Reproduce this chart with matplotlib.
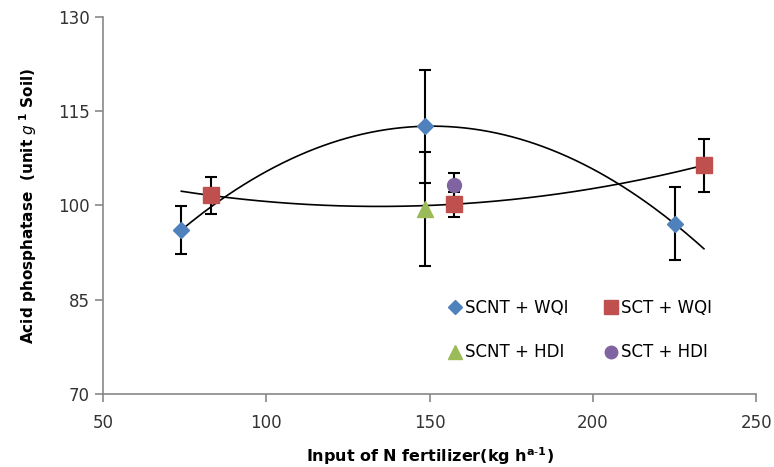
import numpy as np
import matplotlib
matplotlib.use('Agg')
import matplotlib.pyplot as plt

# data
scnt_wqi_x = [74, 148.5, 225]
scnt_wqi_y = [96.1, 112.6, 97.1]
scnt_wqi_err = [3.8, 9.0, 5.8]

sct_wqi_x = [83, 157.5, 234]
sct_wqi_y = [101.6, 100.2, 106.4]
sct_wqi_err = [3.0, 2.0, 4.2]

scnt_hdi_x = [148.5]
scnt_hdi_y = [99.4]
scnt_hdi_err = [9.1]

sct_hdi_x = [157.5]
sct_hdi_y = [103.3]
sct_hdi_err = [1.9]

trend_range = (74, 234)

fig = plt.figure(figsize=(7.74, 4.67), dpi=100)
ax = fig.add_axes([0.133, 0.156, 0.844, 0.808])

# trendlines (2nd order polynomial)
xs = np.linspace(trend_range[0], trend_range[1], 200)
for xx, yy in [(scnt_wqi_x, scnt_wqi_y), (sct_wqi_x, sct_wqi_y)]:
    c = np.polyfit(xx, yy, 2)
    ax.plot(xs, np.polyval(c, xs), color='black', lw=1.2, zorder=2)

ekw = dict(ecolor='black', elinewidth=1.5, capsize=4, capthick=1.5, ls='none', zorder=3)
ax.errorbar(scnt_wqi_x, scnt_wqi_y, yerr=scnt_wqi_err, fmt='D', color='#4F81BD',
            ms=8, mec='#4F81BD', label='SCNT + WQI', **ekw)
ax.errorbar(sct_wqi_x, sct_wqi_y, yerr=sct_wqi_err, fmt='s', color='#C0504D',
            ms=11, mec='#C0504D', label='SCT + WQI', **ekw)
ax.errorbar(scnt_hdi_x, scnt_hdi_y, yerr=scnt_hdi_err, fmt='^', color='#9BBB59',
            ms=11, mec='#9BBB59', label='SCNT + HDI', **ekw)
ax.errorbar(sct_hdi_x, sct_hdi_y, yerr=sct_hdi_err, fmt='o', color='#8064A2',
            ms=10, mec='#8064A2', label='SCT + HDI', **ekw)

ax.set_xlim(50, 250)
ax.set_ylim(70, 130)
ax.set_xticks([50, 100, 150, 200, 250])
ax.set_yticks([70, 85, 100, 115, 130])

for s in ['top', 'right']:
    ax.spines[s].set_visible(False)
for s in ['left', 'bottom']:
    ax.spines[s].set_color('#888888')
    ax.spines[s].set_linewidth(1.2)
ax.tick_params(colors='#888888', labelcolor='#333333', labelsize=12, length=6, width=1.2)
ax.tick_params(axis='x', pad=8)

ax.set_xlabel(r'Input of N fertilizer(kg h$^{\mathbf{a\text{-}1}}$)', fontsize=11.5,
              fontweight='bold', labelpad=10)
ax.set_ylabel(r'Acid phosphatase  (unit $g^{\ \mathbf{1}}$ Soil)', fontsize=11,
              fontweight='bold', labelpad=14)

handles, labels = ax.get_legend_handles_labels()
handles = [h[0] for h in handles]
order = [0, 2, 1, 3]  # fill row by row
ax.legend([handles[i] for i in order], [labels[i] for i in order], ncol=2,
          frameon=False, fontsize=12, loc='center',
          bbox_to_anchor=(0.728, 0.17), handletextpad=0.0, handlelength=1.2,
          columnspacing=2.0, labelspacing=1.6, markerscale=0.9)

fig.savefig('out.png', dpi=100)
